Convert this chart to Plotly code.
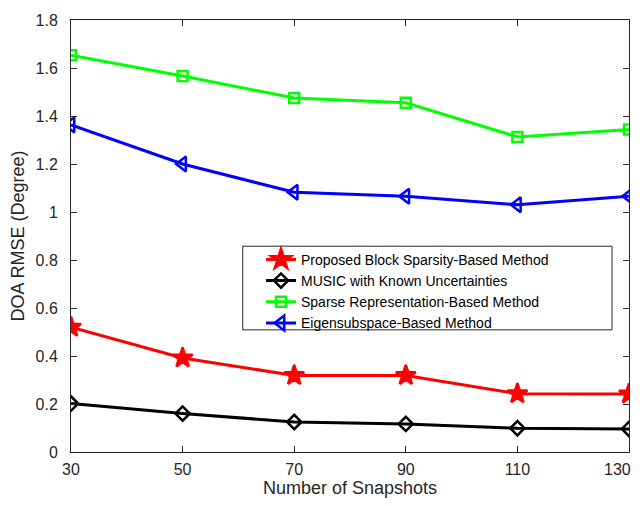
import plotly.graph_objects as go

snapshots = [30, 50, 70, 90, 110, 130]
x_tick_labels = ["30", "50", "70", "90", "110", "130"]
proposed = [0.52, 0.392, 0.319, 0.319, 0.243, 0.242]
music = [0.202, 0.160, 0.125, 0.117, 0.099, 0.096]
sparse = [1.653, 1.567, 1.475, 1.455, 1.313, 1.344]
eigen = [1.363, 1.200, 1.082, 1.066, 1.030, 1.066]

names = ["Proposed Block Sparsity-Based Method", "MUSIC with Known Uncertainties",
         "Sparse Representation-Based Method", "Eigensubspace-Based Method"]
colors = ["#ff0000", "#000000", "#00ff00", "#0000ff"]
symbols = ["star", "diamond-open", "square-open", "triangle-left-open"]
sizes = [15, 11, 10, 13]
series = [proposed, music, sparse, eigen]

fig = go.Figure()
for n, c, s, sz, y in zip(names, colors, symbols, sizes, series):
    fig.add_trace(go.Scatter(
        x=snapshots, y=y, name=n, mode="lines+markers",
        line=dict(color=c, width=3),
        marker=dict(symbol=s, size=sz, color=c, line=dict(color=c, width=2.5)),
    ))

FONT = "Liberation Sans, Arial, sans-serif"
TICKFONT = dict(family=FONT, size=16, color="#262626")
axis_common = dict(
    showgrid=False, zeroline=False, showline=True, linecolor="#262626", linewidth=1,
    mirror="ticks", ticks="inside", ticklen=6, tickcolor="#262626",
    tickfont=TICKFONT,
)
# legend frame (MATLAB-style box)
fig.add_shape(type="rect", xref="paper", yref="paper",
              x0=0.3078, x1=0.9696, y0=0.2828, y1=0.4764,
              fillcolor="white", line=dict(color="#262626", width=1), layer="above")

# last x tick label is pulled inward (as MATLAB does) so it stays inside the page
shown_ticktext = x_tick_labels[:-1] + [""]
fig.add_annotation(x=snapshots[-1], xref="x", y=0, yref="paper",
                   text=x_tick_labels[-1], showarrow=False, font=TICKFONT,
                   xanchor="right", yanchor="middle", xshift=4, yshift=-17)

fig.update_layout(
    width=626, height=490,
    margin=dict(l=62.5, r=4, t=7.3, b=45.3),
    paper_bgcolor="white", plot_bgcolor="white",
    font=dict(family=FONT, color="#262626"),
    xaxis=dict(range=[30, 130], tickvals=snapshots, ticktext=shown_ticktext,
               ticklabelstandoff=3,
               title=dict(text="Number of Snapshots", font=dict(size=18), standoff=3),
               **axis_common),
    yaxis=dict(range=[0, 1.8], dtick=0.2, tick0=0, ticklabelstandoff=9,
               ticklabeloverflow="allow",
               title=dict(text="DOA RMSE (Degree)", font=dict(size=18), standoff=7),
               **axis_common),
    legend=dict(x=0.3405, y=0.482, xanchor="left", yanchor="top",
                bgcolor="rgba(0,0,0,0)", borderwidth=0,
                font=dict(size=14, color="#000000"), tracegroupgap=0),
)
fig.write_html("out.html", config={"displayModeBar": False})
